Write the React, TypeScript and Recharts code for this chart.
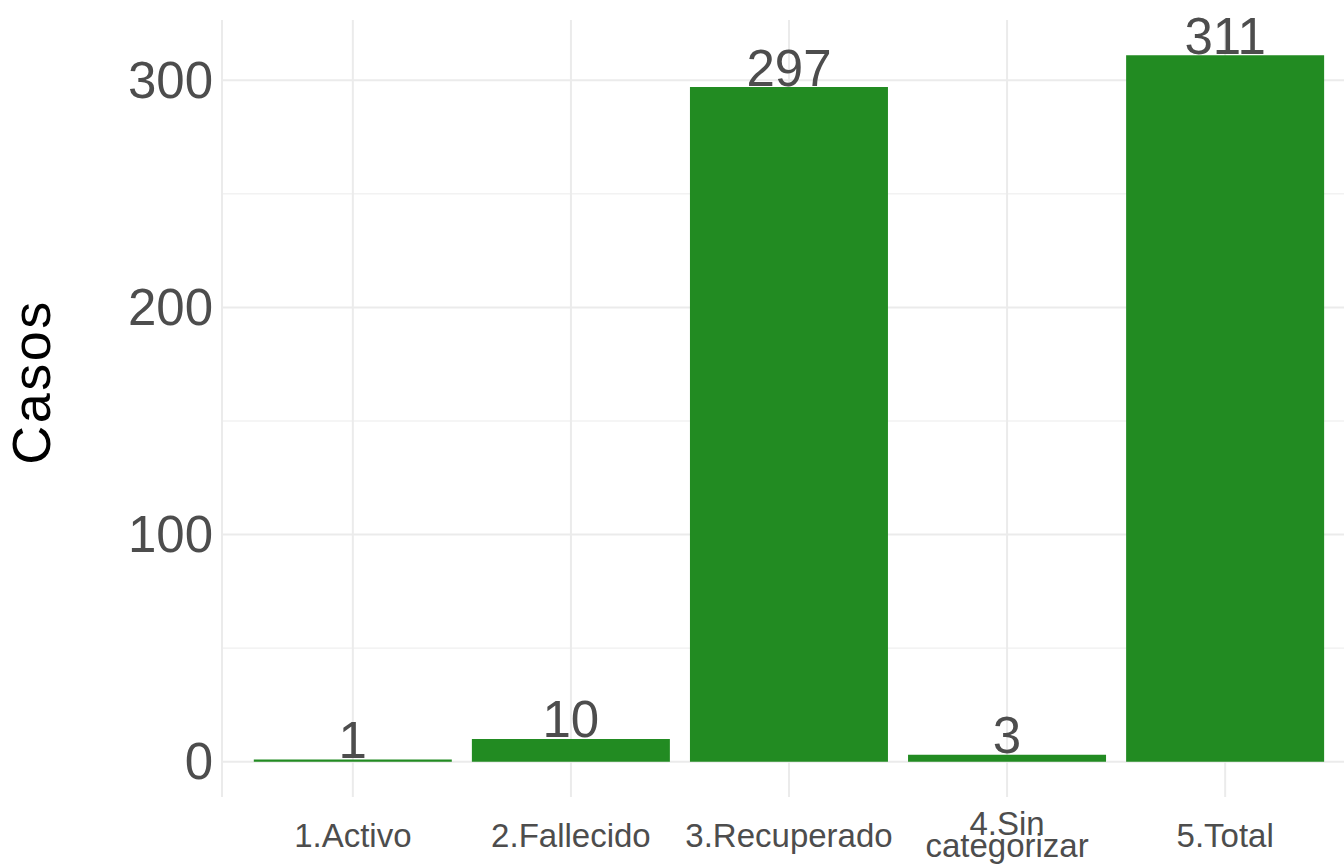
import { BarChart, Bar, XAxis, YAxis, CartesianGrid, LabelList } from 'recharts';

const categories = ['1.Activo', '2.Fallecido', '3.Recuperado', '4.Sin\ncategorizar', '5.Total'];
const casos = [1, 10, 297, 3, 311];
const majorTicks = [0, 100, 200, 300];
const minorTicks = [50, 150, 250];

const data = categories.map((name, i) => ({ name, casos: casos[i] }));

const FONT = '"Liberation Sans", Arial, Helvetica, sans-serif';
const GREY = '#4D4D4D';
const GRID = '#EBEBEB';

function XTick(props: any) {
  const { x, y, payload } = props;
  const lines = String(payload.value).split('\n');
  const lineGap = 22;
  const first = 50 - ((lines.length - 1) * lineGap) / 2 - (lines.length > 1 ? 1 : 0);
  return (
    <text x={x} textAnchor="middle" fontFamily={FONT} fontSize={33} fill={GREY}>
      {lines.map((l, i) => (
        <tspan key={i} x={x} y={y + first + i * lineGap}>{l}</tspan>
      ))}
    </text>
  );
}

function YTick(props: any) {
  const { x, y, payload } = props;
  return (
    <text x={x - 9} y={y} textAnchor="end" dominantBaseline="central" fontFamily={FONT} fontSize={51} fill={GREY}>
      {payload.value}
    </text>
  );
}

function AxisTitle() {
  return (
    <text x={50} y={382} transform="rotate(-90 50 382)" textAnchor="middle" fontFamily={FONT} fontSize={54} letterSpacing={2.5} fill="#000">
      Casos
    </text>
  );
}

function ValueLabel(props: any) {
  const { x, y, width, value } = props;
  return (
    <text x={x + width / 2} y={y - 1.5} textAnchor="middle" fontFamily={FONT} fontSize={51} fill={GREY}>
      {value}
    </text>
  );
}

export default function App() {
  return (
    <div style={{ position: 'absolute', left: 0, top: 0, width: 1344, height: 865, overflow: 'hidden', background: '#fff' }}>
      <BarChart
        width={1360}
        height={865}
        data={data}
        margin={{ top: 20, right: 4, bottom: 38, left: 122 }}
        barSize={198}
      >
        <CartesianGrid stroke={GRID} strokeWidth={1} horizontalValues={minorTicks} vertical={false} />
        <CartesianGrid stroke={GRID} strokeWidth={2} horizontalValues={majorTicks} />
        <XAxis
          dataKey="name"
          type="category"
          height={30}
          padding={{ left: 21.8, right: 21.8 }}
          axisLine={false}
          tickLine={false}
          tickSize={0}
          tickMargin={0}
          interval={0}
          tick={<XTick />}
        />
        <YAxis
          width={100}
          type="number"
          domain={[-15.55, 326.55]}
          ticks={majorTicks}
          allowDataOverflow
          axisLine={false}
          tickLine={false}
          tickSize={0}
          tickMargin={0}
          tick={<YTick />}
          label={<AxisTitle />}
        />
        <Bar dataKey="casos" fill="#228B22" isAnimationActive={false}>
          <LabelList dataKey="casos" content={<ValueLabel />} />
        </Bar>
      </BarChart>
    </div>
  );
}
